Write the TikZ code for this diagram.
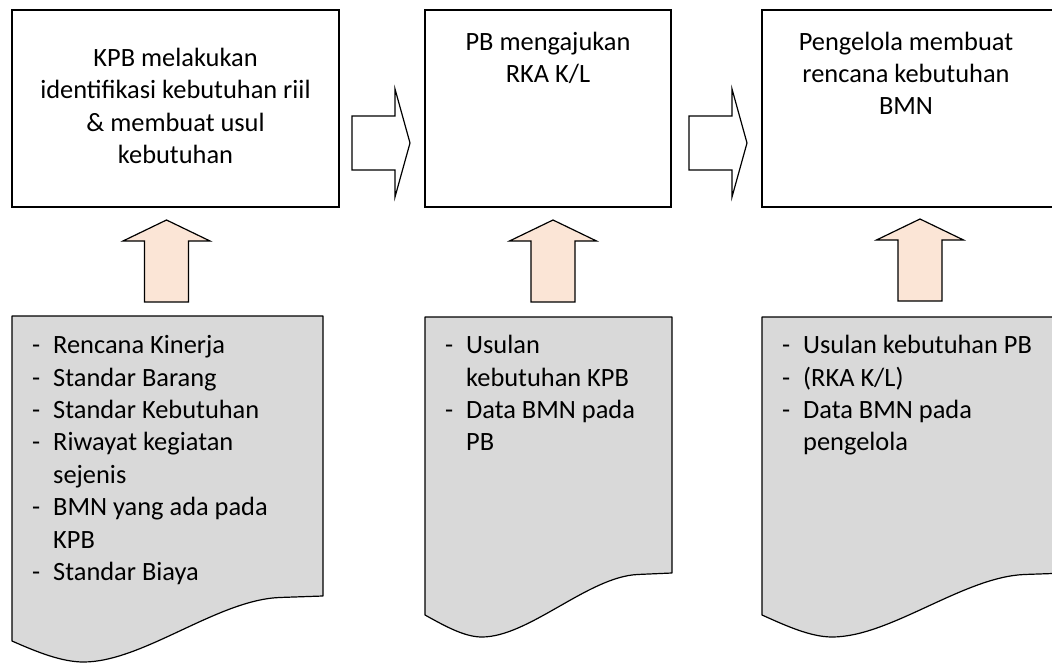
\documentclass[tikz,border=0pt]{standalone}
\usepackage{fontspec}
\setmainfont{Carlito}
\definecolor{docgray}{HTML}{D9D9D9}
\definecolor{feedpeach}{HTML}{FBE5D6}
% document shape: left x, width, top, left bottom, lowest point, right bottom
\newcommand\DocPath[6]{%
  \path[docshape] (#1,#3) -- (#1+#2,#3) -- (#1+#2,#6)
    -- (#1+0.86*#2,#6+1.5)
    .. controls (#1+0.66*#2,#6+4) and (#1+0.42*#2,#5) .. (#1+0.23*#2,#5)
    .. controls (#1+0.16*#2,#5) and (#1+0.08*#2,#4+11) .. (#1,#4) -- cycle;}
\begin{document}
\begin{tikzpicture}[x=1pt,y=-1pt,
  procbox/.style={draw=black, line width=1.2pt, fill=white, inner sep=0pt},
  boxtext/.style={font=\fontsize{26.4}{32.4}\selectfont, align=center, inner sep=0pt},
  listtext/.style={font=\fontsize{26.4}{32.4}\selectfont, align=left, inner sep=0pt, anchor=north west},
  docshape/.style={draw=black, line width=1.2pt, fill=docgray, line join=round},
  flowarrow/.style={draw=black, line width=1.2pt, fill=white, line join=miter},
  feedarrow/.style={draw=black, line width=1.2pt, fill=feedpeach, line join=miter},
  rarrow/.pic={\path[flowarrow] (-29,-27) -- (14,-27) -- (14,-54) -- (29,0)
     -- (14,54) -- (14,27) -- (-29,27) -- cycle;},
  uarrow/.pic={\path[feedarrow] (-22,41) -- (-22,-20) -- (-43.5,-20) -- (0,-41)
     -- (43.5,-20) -- (22,-20) -- (22,41) -- cycle;},
]
\useasboundingbox (0,0) rectangle (1052,663);
\clip (0,0) rectangle (1052,663);

% process boxes
\node[procbox, minimum width=327pt, minimum height=197pt] (b1) at (175.5,108.5) {};
\node[procbox, minimum width=246pt, minimum height=197pt] (b2) at (548,108.5) {};
\node[procbox, minimum width=308pt, minimum height=197pt] (b3) at (916,108.5) {};

\node[boxtext] (t1) at (b1.center) {\strut KPB melakukan\\\strut identifikasi kebutuhan riil\\\strut \& membuat usul\\\strut kebutuhan};
\node[boxtext, anchor=north] (t2) at (548,27.3) {\strut PB mengajukan\\\strut RKA K/L};
\node[boxtext, anchor=north] (t3) at (906,27.3) {\strut Pengelola membuat\\\strut rencana kebutuhan\\\strut BMN};

% flow arrows between the boxes
\pic at (381,143) {rarrow};
\pic at (718,143) {rarrow};

% input documents
\DocPath{12}{311}{316}{641}{662}{596}
\DocPath{425}{247}{317}{615}{637}{573}
\DocPath{762}{305}{317}{615}{637}{573}

\node[listtext] (l1) at (32,330.8) {%
  \strut\makebox[21pt][l]{-}Rencana Kinerja\\
  \strut\makebox[21pt][l]{-}Standar Barang\\
  \strut\makebox[21pt][l]{-}Standar Kebutuhan\\
  \strut\makebox[21pt][l]{-}Riwayat kegiatan\\
  \strut\hspace*{21pt}sejenis\\
  \strut\makebox[21pt][l]{-}BMN yang ada pada\\
  \strut\hspace*{21pt}KPB\\
  \strut\makebox[21pt][l]{-}Standar Biaya};
\node[listtext] (l2) at (445,330.8) {%
  \strut\makebox[21pt][l]{-}Usulan\\
  \strut\hspace*{21pt}kebutuhan KPB\\
  \strut\makebox[21pt][l]{-}Data BMN pada\\
  \strut\hspace*{21pt}PB};
\node[listtext] (l3) at (782,330.8) {%
  \strut\makebox[21pt][l]{-}Usulan kebutuhan PB\\
  \strut\makebox[21pt][l]{-}(RKA K/L)\\
  \strut\makebox[21pt][l]{-}Data BMN pada\\
  \strut\hspace*{21pt}pengelola};

% input arrows feeding each box
\pic at (166.5,261) {uarrow};
\pic at (553,261) {uarrow};
\pic at (920,260) {uarrow};
\end{tikzpicture}
\end{document}
